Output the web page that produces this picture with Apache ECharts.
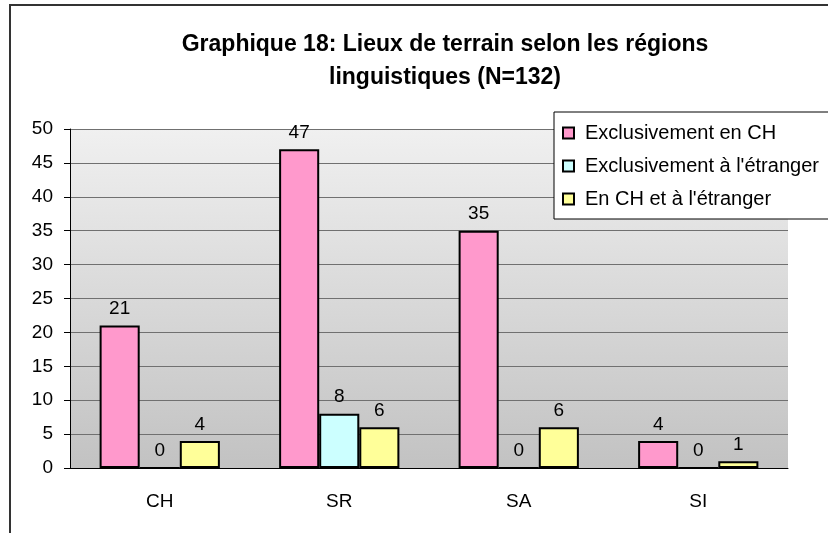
<!DOCTYPE html>
<html>
<head>
<meta charset="utf-8">
<script src="https://cdn.jsdelivr.net/npm/echarts@6/dist/echarts.min.js"></script>
<style>
  html, body { margin: 0; padding: 0; background: #fff; }
  #chart { width: 828px; height: 533px; }
</style>
</head>
<body>
<div id="chart"></div>
<script>
const regions = ["CH", "SR", "SA", "SI"];
const seriesNames = ["Exclusivement en CH", "Exclusivement à l'étranger", "En CH et à l'étranger"];
const exclCH = [21, 47, 35, 4];
const exclEtranger = [0, 8, 0, 0];
const chEtEtranger = [4, 6, 6, 1];
const yTicks = { min: 0, max: 50, interval: 5 };

const colors = ["#ff99cc", "#ccffff", "#ffff99"];
const font = "'Liberation Sans', Arial, sans-serif";

const chart = echarts.init(document.getElementById("chart"));

const makeSeries = (name, data, color) => ({
  name,
  type: "bar",
  data,
  barGap: "0%",
  barCategoryGap: "33%",
  itemStyle: { color, borderColor: "#000", borderWidth: 2 },
  label: {
    show: true,
    position: "top",
    distance: 7,
    color: "#000",
    fontSize: 19,
    fontFamily: font,
  },
});

chart.setOption({
  animation: false,
  textStyle: { fontFamily: font },
  graphic: [
    {
      type: "rect",
      shape: { x: 10, y: 5, width: 900, height: 600 },
      style: { fill: "none", stroke: "#333", lineWidth: 2 },
      z: -10,
    },
  ],
  title: {
    text: "Graphique 18: Lieux de terrain selon les régions\nlinguistiques (N=132)",
    left: 440,
    top: 23,
    textAlign: "center",
    textStyle: {
      fontFamily: font,
      fontWeight: "bold",
      fontSize: 23,
      lineHeight: 33,
      color: "#000",
    },
  },
  legend: {
    orient: "vertical",
    left: 554,
    top: 112,
    padding: [11, 80, 10, 8],
    itemGap: 13,
    itemWidth: 11,
    itemHeight: 11,
    icon: "rect",
    backgroundColor: "#fff",
    borderColor: "#000",
    borderWidth: 1,
    textStyle: { fontSize: 20, color: "#000", fontFamily: font, padding: [0, 0, 0, 6] },
    data: seriesNames,
  },
  grid: {
    left: 70,
    top: 129,
    right: 40,
    bottom: 65,
    show: true,
    borderWidth: 0,
    backgroundColor: new echarts.graphic.LinearGradient(0, 0, 0, 1, [
      { offset: 0, color: "#f0f0f0" },
      { offset: 1, color: "#c2c2c2" },
    ]),
  },
  xAxis: {
    type: "category",
    data: regions,
    axisLine: { lineStyle: { color: "#000", width: 1 } },
    axisTick: { length: 6, lineStyle: { color: "#000" } },
    axisLabel: { color: "#000", fontSize: 19, margin: 24, fontFamily: font },
  },
  yAxis: {
    type: "value",
    min: yTicks.min,
    max: yTicks.max,
    interval: yTicks.interval,
    axisLine: { show: true, lineStyle: { color: "#000", width: 1 } },
    axisTick: { show: true, length: 6, lineStyle: { color: "#000" } },
    axisLabel: { color: "#000", fontSize: 19, margin: 17, fontFamily: font },
    splitLine: { lineStyle: { color: "#707070", width: 1 } },
  },
  series: [
    makeSeries(seriesNames[0], exclCH, colors[0]),
    makeSeries(seriesNames[1], exclEtranger, colors[1]),
    makeSeries(seriesNames[2], chEtEtranger, colors[2]),
  ],
});
</script>
</body>
</html>
